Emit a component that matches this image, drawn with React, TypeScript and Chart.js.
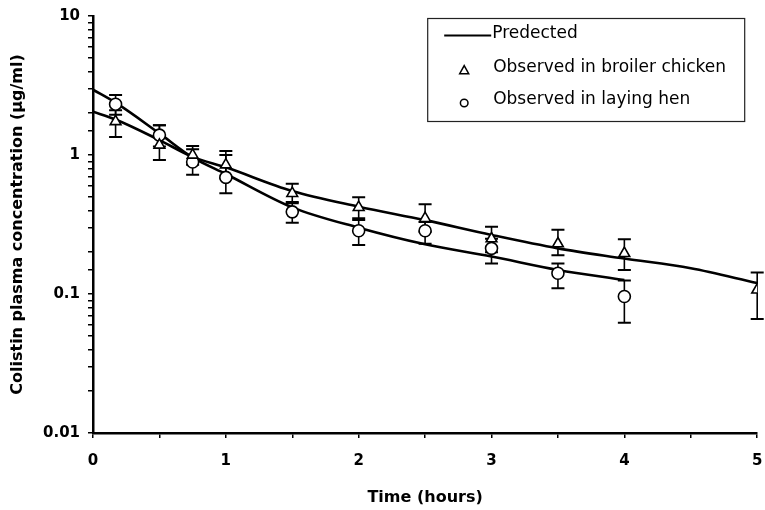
import React, { useEffect, useRef } from 'react';
import { Chart, registerables } from 'chart.js';

Chart.register(...registerables);

// ---- Data ----
const broilerTimes = [0.17, 0.5, 0.75, 1, 1.5, 2, 2.5, 3, 3.5, 4, 5];
const broilerMean = [1.74, 1.18, 1.0, 0.85, 0.53, 0.42, 0.35, 0.25, 0.23, 0.196, 0.107];
const broilerHi = [2.1, 1.64, 1.16, 1.07, 0.62, 0.496, 0.442, 0.305, 0.29, 0.248, 0.143];
const broilerLo = [1.35, 0.92, 0.85, 0.68, 0.45, 0.35, 0.28, 0.2, 0.19, 0.149, 0.066];

const henTimes = [0.17, 0.5, 0.75, 1, 1.5, 2, 2.5, 3, 3.5, 4];
const henMean = [2.32, 1.39, 0.89, 0.69, 0.39, 0.285, 0.285, 0.213, 0.141, 0.096];
const henHi = [2.7, 1.64, 1.1, 1.0, 0.46, 0.34, 0.33, 0.25, 0.166, 0.125];
const henLo = [1.95, 1.15, 0.72, 0.53, 0.326, 0.225, 0.23, 0.166, 0.11, 0.062];

const predBroilerTimes = [0, 0.17, 0.5, 0.75, 1, 1.5, 2, 2.5, 3, 3.5, 4, 4.5, 5];
const predBroilerValues = [2.05, 1.8, 1.28, 0.97, 0.815, 0.55, 0.425, 0.34, 0.266, 0.213, 0.18, 0.153, 0.12];

const predHenTimes = [0, 0.17, 0.5, 0.75, 1, 1.5, 2, 2.5, 3, 3.5, 4];
const predHenValues = [2.95, 2.38, 1.43, 0.96, 0.73, 0.42, 0.3, 0.228, 0.186, 0.149, 0.126];

const yMajorTicks = [0.01, 0.1, 1, 10];
const yMajorLabels = ['0.01', '0.1', '1', '10'];
const xMajorTicks = [0, 1, 2, 3, 4, 5];
const xMajorLabels = ['0', '1', '2', '3', '4', '5'];

const legendLabels = ['Predected', 'Observed in broiler chicken', 'Observed in laying hen'];
const xTitle = 'Time (hours)';
const yTitle = 'Colistin plasma concentration (\u03bcg/ml)';

const toPoints = (xs: number[], ys: number[]) => xs.map((x, i) => ({ x, y: ys[i] }));

const errorSeries = [
  { t: broilerTimes, hi: broilerHi, lo: broilerLo },
  { t: henTimes, hi: henHi, lo: henLo },
];

const FONT = "'DejaVu Sans', sans-serif";

const errorBarPlugin = {
  id: 'errorBars',
  beforeDatasetsDraw(chart: any) {
    const { ctx, scales } = chart;
    const x = scales.x;
    const y = scales.y;
    ctx.save();
    ctx.strokeStyle = '#000';
    const cap = 6.5;
    for (const s of errorSeries) {
      s.t.forEach((t: number, i: number) => {
        const px = x.getPixelForValue(t);
        const top = y.getPixelForValue(s.hi[i]);
        const bot = y.getPixelForValue(s.lo[i]);
        ctx.lineWidth = 1.6;
        ctx.beginPath();
        ctx.moveTo(px, top);
        ctx.lineTo(px, bot);
        ctx.stroke();
        ctx.lineWidth = 2;
        ctx.beginPath();
        ctx.moveTo(px - cap, top);
        ctx.lineTo(px + cap, top);
        ctx.moveTo(px - cap, bot);
        ctx.lineTo(px + cap, bot);
        ctx.stroke();
      });
    }
    ctx.restore();
  },
};

const legendPlugin = {
  id: 'boxLegend',
  afterDraw(chart: any) {
    const { ctx, chartArea } = chart;
    const left = chartArea.right - 330;
    const top = chartArea.top + 2;
    const w = 317;
    const h = 103;
    ctx.save();
    ctx.fillStyle = '#fff';
    ctx.fillRect(left, top, w, h);
    ctx.strokeStyle = '#222';
    ctx.lineWidth = 1.2;
    ctx.strokeRect(left + 0.5, top + 0.5, w, h);

    ctx.fillStyle = '#000';
    ctx.font = `17px ${FONT}`;
    ctx.textBaseline = 'middle';
    ctx.textAlign = 'left';
    const textX = left + 65;
    const rows = [top + 16, top + 50, top + 82];

    // line sample
    ctx.strokeStyle = '#000';
    ctx.lineWidth = 2;
    ctx.beginPath();
    ctx.moveTo(left + 17, rows[0] + 1.5);
    ctx.lineTo(left + 64, rows[0] + 1.5);
    ctx.stroke();
    ctx.fillText(legendLabels[0], textX, rows[0]);

    // triangle
    const mx = left + 37;
    const r = 4.5;
    ctx.lineWidth = 1.5;
    ctx.beginPath();
    ctx.moveTo(mx, rows[1] + 3 - r * 1.2);
    ctx.lineTo(mx + r, rows[1] + 3 + r * 0.6);
    ctx.lineTo(mx - r, rows[1] + 3 + r * 0.6);
    ctx.closePath();
    ctx.stroke();
    ctx.fillText(legendLabels[1], textX + 1, rows[1]);

    // circle
    ctx.beginPath();
    ctx.arc(mx, rows[2] + 3, 3.8, 0, Math.PI * 2);
    ctx.stroke();
    ctx.fillText(legendLabels[2], textX + 1, rows[2]);
    ctx.restore();
  },
};

export default function App() {
  const canvasRef = useRef<HTMLCanvasElement | null>(null);

  useEffect(() => {
    if (!canvasRef.current) return;
    Chart.defaults.font.family = FONT;
    Chart.defaults.color = '#000';

    const chart = new Chart(canvasRef.current, {
      type: 'scatter',
      data: {
        datasets: [
          {
            label: 'Observed in broiler chicken',
            data: toPoints(broilerTimes, broilerMean),
            pointStyle: 'triangle',
            pointRadius: 6.2,
            pointBackgroundColor: '#fff',
            pointBorderColor: '#000',
            pointBorderWidth: 1.6,
            showLine: false,
          },
          {
            label: 'Observed in laying hen',
            data: toPoints(henTimes, henMean),
            pointStyle: 'circle',
            pointRadius: 6,
            pointBackgroundColor: '#fff',
            pointBorderColor: '#000',
            pointBorderWidth: 1.6,
            showLine: false,
          },
          {
            label: 'Predicted broiler',
            data: toPoints(predBroilerTimes, predBroilerValues),
            showLine: true,
            borderColor: '#000',
            borderWidth: 2.6,
            pointRadius: 0,
            cubicInterpolationMode: 'monotone',
          },
          {
            label: 'Predicted hen',
            data: toPoints(predHenTimes, predHenValues),
            showLine: true,
            borderColor: '#000',
            borderWidth: 2.6,
            pointRadius: 0,
            cubicInterpolationMode: 'monotone',
          },
        ],
      },
      options: {
        responsive: false,
        animation: false,
        events: [],
        layout: { padding: { top: 16, right: 7, left: 0, bottom: 0 } },
        plugins: {
          legend: { display: false },
          tooltip: { enabled: false },
        },
        scales: {
          x: {
            type: 'linear',
            min: 0,
            max: 5,
            afterFit: (scale: any) => {
              scale.height = 77;
              scale.paddingLeft = 0;
              scale.paddingRight = 0;
            },
            border: { display: true, color: '#000', width: 2.5 },
            grid: {
              drawOnChartArea: false,
              drawTicks: true,
              tickLength: 5,
              color: '#000',
              lineWidth: 1.5,
            },
            ticks: {
              stepSize: 0.5,
              autoSkip: false,
              maxRotation: 0,
              padding: 14,
              font: { size: 15, weight: 'bold', family: FONT },
              color: '#000',
              callback: (value: any) => {
                const v = Number(value);
                const idx = xMajorTicks.findIndex((m) => Math.abs(m - v) < 1e-6);
                return idx >= 0 ? xMajorLabels[idx] : '';
              },
            },
            title: {
              display: true,
              text: xTitle,
              font: { size: 16, weight: 'bold', family: FONT },
              color: '#000',
              padding: { top: 0, bottom: 3 },
            },
          },
          y: {
            type: 'logarithmic',
            min: 0.01,
            max: 10,
            afterFit: (scale: any) => {
              scale.width = 93;
              scale.paddingTop = 0;
              scale.paddingBottom = 0;
            },
            border: { display: true, color: '#000', width: 2.5 },
            grid: {
              drawOnChartArea: false,
              drawTicks: true,
              tickLength: 5,
              color: '#000',
              lineWidth: 1.5,
            },
            ticks: {
              autoSkip: false,
              padding: 8,
              font: { size: 15, weight: 'bold', family: FONT },
              color: '#000',
              callback: (value: any) => {
                const v = Number(value);
                const idx = yMajorTicks.findIndex((m) => Math.abs(m - v) < m * 1e-6);
                return idx >= 0 ? yMajorLabels[idx] : '';
              },
            },
            title: {
              display: true,
              text: yTitle,
              font: { size: 16, weight: 'bold', family: FONT },
              color: '#000',
              padding: { top: 8, bottom: 0 },
            },
          },
        },
      } as any,
      plugins: [errorBarPlugin, legendPlugin],
    });

    return () => {
      chart.destroy();
    };
  }, []);

  return (
    <div style={{ position: 'fixed', left: 0, top: 0, width: 765, height: 510, background: '#fff' }}>
      <canvas ref={canvasRef} width={765} height={510} style={{ display: 'block' }} />
    </div>
  );
}
